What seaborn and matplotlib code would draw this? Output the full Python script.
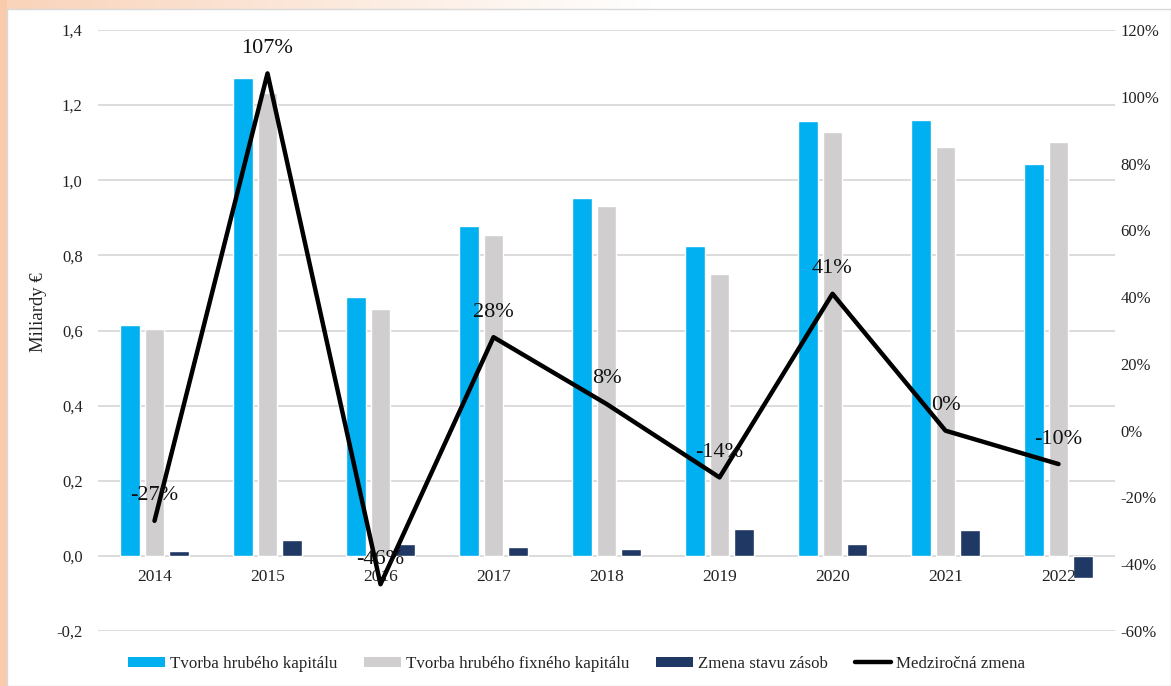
import numpy as np
import pandas as pd
import matplotlib
matplotlib.use("Agg")
import matplotlib.pyplot as plt
from matplotlib.patches import Rectangle, Patch
from matplotlib.lines import Line2D
from matplotlib.ticker import FuncFormatter
import seaborn as sns

# Data (billions EUR and year-on-year change in %)
years = ["2014", "2015", "2016", "2017", "2018", "2019", "2020", "2021", "2022"]
gross_capital = [0.615, 1.273, 0.690, 0.879, 0.953, 0.826, 1.158, 1.161, 1.044]
gross_fixed_capital = [0.604, 1.233, 0.658, 0.855, 0.932, 0.751, 1.129, 1.089, 1.102]
inventory_change = [0.013, 0.043, 0.032, 0.024, 0.019, 0.072, 0.032, 0.069, -0.059]
yoy_change = [-27, 107, -46, 28, 8, -14, 41, 0, -10]

series_names = ["Tvorba hrubého kapitálu", "Tvorba hrubého fixného kapitálu",
                "Zmena stavu zásob"]
line_name = "Medziročná zmena"
colors = ["#00B0F0", "#D0CECE", "#203864"]

sns.set_theme(style="white")
plt.rcParams["font.family"] = ["Liberation Serif", "DejaVu Serif"]

df = pd.DataFrame({
    "rok": years * 3,
    "seria": np.repeat(series_names, len(years)),
    "hodnota": gross_capital + gross_fixed_capital + inventory_change,
})

fig = plt.figure(figsize=(11.71, 6.86), dpi=100)

# Frame background: peach edge fading out along the top
bg = fig.add_axes([0, 0, 1, 1], zorder=-10)
bg.set_axis_off()
W, H = 1171, 686
peach = np.array([248, 203, 173]) / 255.0
img = np.ones((H, W, 3))
xs = np.arange(W)
fade = np.clip(1 - xs / 650.0, 0, 1)[None, :, None]
img[:] = 1 - (1 - peach) * fade * 0.85
img[:, :7, :] = peach
bg.imshow(img, extent=[0, W, H, 0], aspect="auto")
bg.add_patch(Rectangle((7, 9), W - 7, H - 9, facecolor="white",
                       edgecolor="#d9d9d9", linewidth=1))
bg.set_xlim(0, W)
bg.set_ylim(H, 0)

ax = fig.add_axes([98 / W, 1 - 631 / H, (1115 - 98) / W, (631 - 30) / H])
ax.set_facecolor("none")

sns.barplot(data=df, x="rok", y="hodnota", hue="seria", palette=colors,
            width=0.663, gap=0.2, ax=ax, legend=False, saturation=1)

ax.set_ylim(-0.2, 1.4)
ax.set_yticks(np.arange(-0.2, 1.41, 0.2))
ax.yaxis.set_major_formatter(FuncFormatter(lambda v, p: f"{v:.1f}".replace(".", ",")))
ax.set_xlim(-0.5, len(years) - 0.5)
ax.grid(axis="y", color="#d9d9d9", linewidth=1.3)
ax.set_axisbelow(True)
for s in ax.spines.values():
    s.set_visible(False)
ax.tick_params(axis="y", length=0, pad=11, labelsize=12, labelcolor="#222222")
ax.tick_params(axis="x", length=0, labelbottom=False)
ax.set_xlabel("")
ax.set_ylabel("Miliardy €", fontsize=13.5, color="#222222")
ax.yaxis.set_label_coords(-51 / (1115 - 98), 0.53)

# Category labels sit just under the zero line
for i, yr in enumerate(years):
    ax.text(i, -0.035, yr, ha="center", va="top", fontsize=12.5, color="#222222")

ax2 = ax.twinx()
ax2.set_facecolor("none")
sns.lineplot(x=np.arange(len(years)), y=yoy_change, ax=ax2, color="black",
             linewidth=3.2, legend=False)
ax2.set_ylim(-60, 120)
ax2.set_yticks(np.arange(-60, 121, 20))
ax2.yaxis.set_major_formatter(FuncFormatter(lambda v, p: f"{v:.0f}%"))
for s in ax2.spines.values():
    s.set_visible(False)
ax2.tick_params(axis="y", length=0, pad=4, labelsize=12, labelcolor="#222222")
ax2.set_xlim(-0.5, len(years) - 0.5)

for i, v in enumerate(yoy_change):
    ax2.annotate(f"{v}%", (i, v), xytext=(0, 25), textcoords="offset pixels",
                 ha="center", va="center", fontsize=16, color="#111111")

handles = [Patch(facecolor=c, edgecolor="none") for c in colors]
handles.append(Line2D([0], [0], color="black", linewidth=3.2))
fig.legend(handles, series_names + [line_name], loc="center",
           bbox_to_anchor=(577 / W, 1 - 664 / H), ncol=4, frameon=False,
           fontsize=12.2, handlelength=2.15, handleheight=0.55,
           handletextpad=0.3, columnspacing=1.6, borderpad=0, borderaxespad=0)

fig.savefig("out.png", dpi=100)
